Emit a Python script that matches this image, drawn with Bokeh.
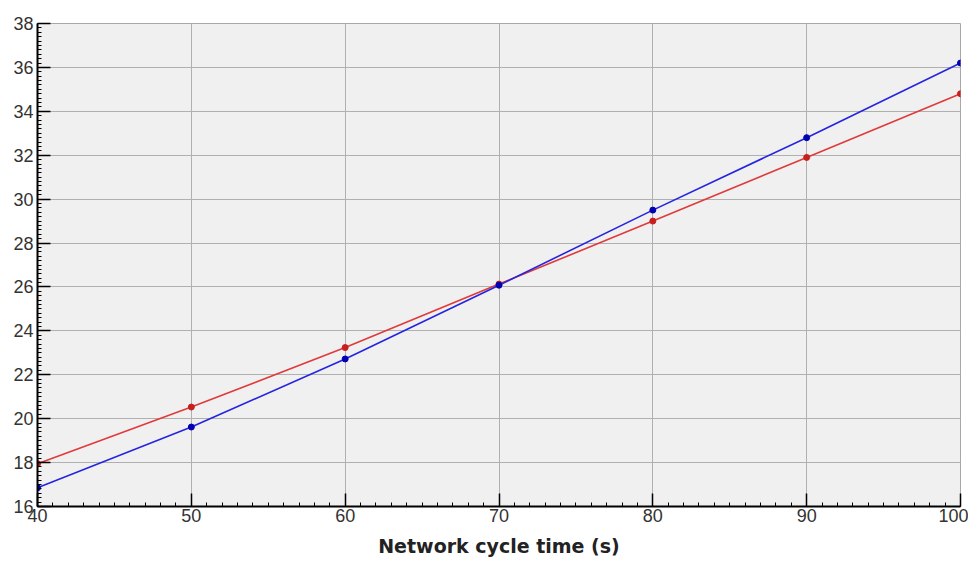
from bokeh.plotting import figure
from bokeh.models import Range1d, SingleIntervalTicker
from bokeh.embed import file_html
from bokeh.resources import INLINE

cycle_time = [40, 50, 60, 70, 80, 90, 100]
series_red = [17.95, 20.53, 23.24, 26.13, 29.0, 31.9, 34.8]
series_blue = [16.85, 19.62, 22.72, 26.08, 29.5, 32.8, 36.2]
x_label = "Network cycle time (s)"

p = figure(width=968, height=562, output_backend="svg", toolbar_location=None,
           x_range=Range1d(40, 100), y_range=Range1d(16, 38),
           min_border_left=37, min_border_right=8, min_border_top=23, min_border_bottom=56)
p.background_fill_color = "#f0f0f0"
p.border_fill_color = "white"
p.outline_line_color = "#a8a8a8"
p.outline_line_width = 1

p.xaxis.ticker = SingleIntervalTicker(interval=10, num_minor_ticks=10)
p.yaxis.ticker = SingleIntervalTicker(interval=2, num_minor_ticks=10)

for ax in (p.xaxis[0], p.yaxis[0]):
    ax.axis_line_color = "black"
    ax.axis_line_width = 2
    ax.major_tick_line_color = "black"
    ax.minor_tick_line_color = "black"
    ax.major_tick_line_width = 1.5
    ax.minor_tick_line_width = 1
    ax.major_tick_in = 13
    ax.major_tick_out = 0
    ax.minor_tick_in = 4
    ax.minor_tick_out = 0
    ax.major_label_text_font = "Liberation Sans"
    ax.major_label_text_font_size = "18px"
    ax.major_label_text_color = "#333333"
    ax.major_label_standoff = 4

p.xaxis.major_label_standoff = 2
p.xaxis.axis_label = x_label
p.xaxis.axis_label_text_font = "DejaVu Sans"
p.xaxis.axis_label_text_font_style = "bold"
p.xaxis.axis_label_text_font_size = "19px"
p.xaxis.axis_label_text_color = "#222222"
p.xaxis.axis_label_standoff = 10

p.grid.grid_line_color = "#b0b0b0"
p.grid.grid_line_width = 1

p.line(cycle_time, series_red, line_color="#e03a3a", line_width=1.6)
p.line(cycle_time, series_blue, line_color="#2525e0", line_width=1.6)
p.scatter(cycle_time, series_red, size=6, fill_color="#c81e1e", line_color="#c81e1e")
p.scatter(cycle_time, series_blue, size=6, fill_color="#0000b4", line_color="#0000b4")

open("out.html", "w").write(file_html(p, INLINE))
